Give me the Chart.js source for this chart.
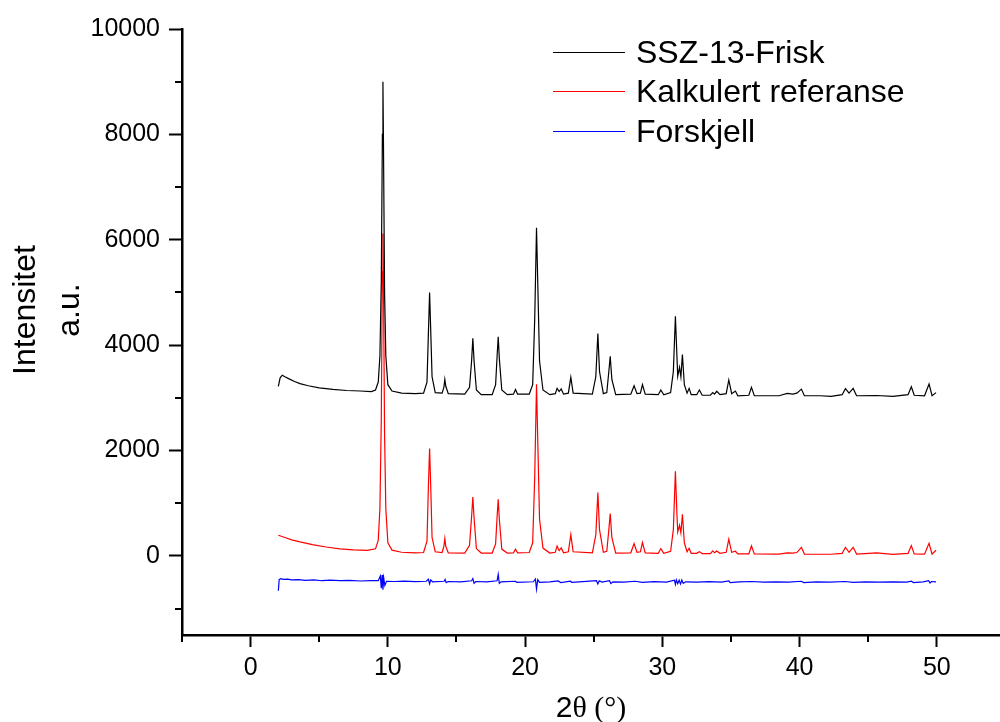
<!DOCTYPE html>
<html>
<head>
<meta charset="utf-8">
<script src="https://cdn.jsdelivr.net/npm/chart.js@4.4.1/dist/chart.umd.min.js"></script>
<style>
    html, body { margin: 0; padding: 0; background: #fff; }
    #wrap { width: 1000px; height: 722px; }
</style>
</head>
<body>
<div id="wrap"><canvas id="xrdChart" width="1000" height="722"></canvas></div>
<script>
// series labels
const seriesNames = ['SSZ-13-Frisk', 'Kalkulert referanse', 'Forskjell'];

// axis ticks
const xMajorTicks = [0, 10, 20, 30, 40, 50];
const xMinorTicks = [-5, 5, 15, 25, 35, 45];
const yMajorTicks = [0, 2000, 4000, 6000, 8000, 10000];
const yMinorTicks = [-1000, 1000, 3000, 5000, 7000, 9000];

const friskPoints = [
    [2.02, 3220], [2.15, 3380], [2.3, 3430], [2.5, 3400], [2.8, 3360], [3.2, 3310], [3.6, 3270],
    [4.2, 3230], [5.0, 3190], [6.0, 3160], [7.0, 3140], [8.0, 3130], [8.8, 3120], [9.1, 3150],
    [9.3, 3300], [9.42, 3800], [9.52, 5200], [9.6, 8000], [9.64, 9000], [9.68, 7800], [9.76, 5000],
    [9.85, 3800], [10.0, 3250], [10.3, 3130], [11.0, 3090], [12.0, 3080], [12.6, 3090], [12.85, 3300],
    [12.95, 4200], [13.04, 5000], [13.12, 4300], [13.22, 3400], [13.45, 3100], [13.95, 3090],
    [14.08, 3200], [14.15, 3350], [14.22, 3220], [14.4, 3080], [15.6, 3070], [15.95, 3200],
    [16.1, 3700], [16.19, 4130], [16.28, 3700], [16.45, 3150], [16.8, 3060], [17.6, 3060],
    [17.85, 3250], [17.96, 3800], [18.04, 4160], [18.12, 3750], [18.3, 3150], [18.7, 3060],
    [19.15, 3070], [19.3, 3160], [19.45, 3070], [20.3, 3070], [20.55, 3250], [20.7, 4500],
    [20.83, 6230], [20.92, 5200], [21.05, 3700], [21.3, 3150], [21.8, 3060], [22.2, 3080],
    [22.33, 3180], [22.48, 3120], [22.63, 3170], [22.8, 3070], [23.15, 3090], [23.33, 3390],
    [23.5, 3090], [24.9, 3070], [25.15, 3400], [25.3, 4220], [25.42, 3500], [25.7, 3080],
    [25.95, 3100], [26.1, 3500], [26.2, 3790], [26.32, 3350], [26.6, 3060], [27.7, 3070],
    [27.94, 3230], [28.15, 3080], [28.4, 3090], [28.55, 3250], [28.75, 3070], [29.7, 3060],
    [29.89, 3150], [30.1, 3060], [30.6, 3100], [30.8, 3500], [30.95, 4550], [31.06, 3800],
    [31.12, 3410], [31.25, 3580], [31.35, 3400], [31.46, 3820], [31.6, 3250], [31.8, 3090],
    [31.95, 3180], [32.1, 3060], [32.5, 3060], [32.7, 3150], [32.9, 3050], [33.5, 3050],
    [33.67, 3100], [33.8, 3070], [33.96, 3125], [34.2, 3060], [34.65, 3080], [34.84, 3340],
    [35.05, 3080], [35.32, 3130], [35.5, 3040], [36.3, 3050], [36.49, 3200], [36.7, 3040],
    [38.5, 3040], [39.1, 3085], [39.5, 3070], [39.8, 3090], [40.13, 3166], [40.35, 3040],
    [41.5, 3040], [42.3, 3030], [43.1, 3060], [43.34, 3175], [43.6, 3090], [43.9, 3180],
    [44.15, 3040], [45.6, 3045], [46.8, 3030], [47.9, 3060], [48.14, 3210], [48.35, 3050],
    [49.1, 3040], [49.43, 3262], [49.65, 3040], [49.94, 3100]
];

const referencePoints = [
    [2.02, 393], [2.5, 350], [3.0, 305], [3.6, 266], [4.5, 215], [5.5, 170], [6.5, 135],
    [7.5, 115], [8.5, 105], [9.1, 135], [9.3, 300], [9.42, 900], [9.52, 2600], [9.6, 5400],
    [9.64, 6120], [9.68, 5200], [9.76, 2300], [9.85, 900], [10.0, 250], [10.3, 110], [11.0, 70],
    [12.0, 57], [12.6, 65], [12.85, 280], [12.95, 1300], [13.04, 2040], [13.12, 1350], [13.22, 350],
    [13.45, 80], [13.95, 65], [14.08, 180], [14.15, 330], [14.22, 180], [14.4, 60], [15.6, 55],
    [15.95, 200], [16.1, 750], [16.19, 1120], [16.28, 720], [16.45, 140], [16.8, 55], [17.6, 55],
    [17.85, 230], [17.96, 750], [18.04, 1077], [18.12, 700], [18.3, 130], [18.7, 55], [19.15, 60],
    [19.3, 127], [19.45, 60], [20.3, 65], [20.55, 250], [20.7, 1500], [20.83, 3260], [20.92, 2200],
    [21.05, 700], [21.3, 150], [21.8, 55], [22.2, 70], [22.33, 190], [22.48, 100], [22.63, 152],
    [22.8, 60], [23.15, 80], [23.33, 406], [23.5, 80], [24.9, 60], [25.15, 400], [25.3, 1204],
    [25.42, 500], [25.7, 70], [25.95, 90], [26.1, 500], [26.2, 805], [26.32, 350], [26.6, 55],
    [27.7, 60], [27.94, 235], [28.15, 70], [28.4, 80], [28.55, 254], [28.75, 60], [29.7, 50],
    [29.89, 140], [30.1, 50], [30.6, 90], [30.8, 500], [30.95, 1609], [31.06, 800], [31.12, 456],
    [31.25, 583], [31.35, 437], [31.46, 792], [31.6, 250], [31.8, 80], [31.95, 146], [32.1, 50],
    [32.5, 50], [32.7, 82], [32.9, 45], [33.5, 45], [33.67, 95], [33.8, 60], [33.96, 95],
    [34.2, 50], [34.65, 70], [34.84, 317], [35.05, 70], [35.32, 89], [35.5, 40], [36.3, 40],
    [36.49, 190], [36.7, 40], [38.5, 35], [39.1, 60], [39.5, 55], [39.8, 65], [40.13, 165],
    [40.35, 35], [41.5, 32], [42.3, 32], [43.1, 50], [43.34, 165], [43.6, 70], [43.9, 165],
    [44.15, 35], [45.6, 60], [46.8, 30], [47.9, 50], [48.14, 197], [48.35, 40], [49.1, 35],
    [49.43, 241], [49.65, 35], [49.94, 108]
];

const differencePoints = [
    [2.02, -660], [2.08, -450], [2.2, -430], [2.4, -445], [2.7, -440], [3.0, -455], [3.5, -450],
    [4.0, -465], [4.6, -455], [5.2, -470], [5.8, -460], [6.5, -470], [7.2, -462], [8.0, -475],
    [8.8, -468], [9.3, -470], [9.45, -380], [9.52, -610], [9.58, -360], [9.64, -640], [9.7, -420],
    [9.78, -560], [9.9, -480], [10.5, -485], [11.2, -478], [12.0, -488], [12.8, -480], [12.95, -440],
    [13.04, -530], [13.12, -455], [13.25, -490], [14.1, -480], [14.17, -445], [14.25, -505],
    [14.4, -485], [15.3, -490], [16.1, -470], [16.19, -430], [16.28, -520], [16.4, -485],
    [17.2, -492], [17.96, -470], [18.04, -350], [18.12, -520], [18.25, -490], [19.3, -480],
    [19.4, -500], [20.6, -490], [20.75, -440], [20.83, -630], [20.92, -450], [21.05, -500],
    [21.8, -492], [22.4, -475], [22.6, -505], [23.3, -480], [23.4, -500], [24.2, -488],
    [25.2, -470], [25.3, -530], [25.4, -470], [25.6, -495], [26.15, -470], [26.25, -525],
    [26.4, -490], [27.2, -495], [28.0, -480], [28.55, -500], [29.4, -488], [30.3, -495],
    [30.88, -460], [30.95, -540], [31.02, -455], [31.12, -525], [31.22, -460], [31.32, -530],
    [31.42, -455], [31.52, -520], [31.7, -490], [32.5, -496], [33.4, -488], [34.3, -495],
    [34.84, -475], [34.95, -505], [35.6, -492], [36.5, -485], [37.4, -496], [38.3, -490],
    [39.2, -498], [40.13, -480], [40.3, -505], [41.2, -492], [42.2, -498], [43.3, -485],
    [43.9, -500], [44.8, -492], [45.8, -498], [46.8, -490], [47.8, -496], [48.14, -480],
    [48.3, -505], [49.0, -492], [49.4, -470], [49.5, -515], [49.6, -485], [49.94, -492]
];

const seriesColors = ['#000000', '#ff0000', '#0000ff'];

const toXY = pts => pts.map(p => ({ x: p[0], y: p[1] }));

// minor ticks, axis titles and the legend are drawn by hand
const decorPlugin = {
    id: 'decor',
    afterDraw(chart) {
        const ctx = chart.ctx;
        const xs = chart.scales.x;
        const ys = chart.scales.y;
        const area = chart.chartArea;

        ctx.save();
        ctx.strokeStyle = '#000';
        ctx.lineWidth = 2;
        xMinorTicks.forEach(v => {
            const px = Math.round(xs.getPixelForValue(v));
            ctx.beginPath();
            ctx.moveTo(px, area.bottom);
            ctx.lineTo(px, area.bottom + 7);
            ctx.stroke();
        });
        yMinorTicks.forEach(v => {
            const py = Math.round(ys.getPixelForValue(v));
            ctx.beginPath();
            ctx.moveTo(area.left - 7, py);
            ctx.lineTo(area.left, py);
            ctx.stroke();
        });

        // y title
        ctx.fillStyle = '#000';
        ctx.textAlign = 'center';
        ctx.textBaseline = 'alphabetic';
        ctx.font = '32px "Liberation Sans", Arial, sans-serif';
        ctx.save();
        ctx.translate(35, 310);
        ctx.rotate(-Math.PI / 2);
        ctx.fillText('Intensitet', 0, 0);
        ctx.restore();
        ctx.save();
        ctx.translate(79, 310);
        ctx.rotate(-Math.PI / 2);
        ctx.fillText('a.u.', 0, 0);
        ctx.restore();

        // x title: "2" sans, rest serif
        ctx.textAlign = 'left';
        ctx.font = '30px "Liberation Sans", Arial, sans-serif';
        const two = '2';
        const rest = 'θ (°)';
        const w1 = ctx.measureText(two).width;
        ctx.font = '30px "Liberation Serif", "Times New Roman", serif';
        const w2 = ctx.measureText(rest).width;
        const startX = (area.left + area.right) / 2 - (w1 + w2) / 2;
        ctx.font = '30px "Liberation Sans", Arial, sans-serif';
        ctx.fillText(two, startX, 717);
        ctx.font = '30px "Liberation Serif", "Times New Roman", serif';
        ctx.fillText(rest, startX + w1, 717);

        // legend
        ctx.font = '32px "Liberation Sans", Arial, sans-serif';
        const rowY = [52, 91, 131];
        chart.data.datasets.forEach((ds, i) => {
            ctx.strokeStyle = ds.borderColor;
            ctx.lineWidth = 1;
            ctx.beginPath();
            ctx.moveTo(553, rowY[i] + 0.5);
            ctx.lineTo(625, rowY[i] + 0.5);
            ctx.stroke();
            ctx.fillStyle = '#000';
            ctx.fillText(ds.label, 636, rowY[i] + 11);
        });
        ctx.restore();
    }
};

const ctx = document.getElementById('xrdChart').getContext('2d');
new Chart(ctx, {
    type: 'line',
    data: {
        datasets: [
            { label: seriesNames[0], data: toXY(friskPoints), borderColor: seriesColors[0] },
            { label: seriesNames[1], data: toXY(referencePoints), borderColor: seriesColors[1] },
            { label: seriesNames[2], data: toXY(differencePoints), borderColor: seriesColors[2] }
        ]
    },
    options: {
        responsive: false,
        animation: false,
        devicePixelRatio: 1,
        layout: { padding: { top: 29, right: 0, left: 0, bottom: 0 } },
        elements: {
            line: { borderWidth: 1.2, tension: 0 },
            point: { radius: 0, hoverRadius: 0 }
        },
        plugins: {
            legend: { display: false },
            tooltip: { enabled: false }
        },
        scales: {
            x: {
                type: 'linear',
                min: -5,
                max: 54.6,
                afterBuildTicks: scale => { scale.ticks = xMajorTicks.map(v => ({ value: v })); },
                afterFit: scale => { scale.height = 87; },
                grid: { drawOnChartArea: false, drawTicks: true, tickLength: 12, tickWidth: 2, tickColor: '#000' },
                border: { display: true, color: '#000', width: 2.5 },
                ticks: {
                    color: '#000',
                    padding: 6,
                    maxRotation: 0,
                    callback: v => String(v),
                    font: { family: '"Liberation Sans", Arial, sans-serif', size: 25 }
                }
            },
            y: {
                type: 'linear',
                min: -1500,
                max: 10000,
                afterBuildTicks: scale => { scale.ticks = yMajorTicks.map(v => ({ value: v })); },
                afterFit: scale => { scale.width = 182; },
                grid: { drawOnChartArea: false, drawTicks: true, tickLength: 13, tickWidth: 2, tickColor: '#000' },
                border: { display: true, color: '#000', width: 2.5 },
                ticks: {
                    color: '#000',
                    padding: 9,
                    callback: v => String(v),
                    font: { family: '"Liberation Sans", Arial, sans-serif', size: 25 }
                }
            }
        }
    },
    plugins: [decorPlugin]
});
</script>
</body>
</html>
